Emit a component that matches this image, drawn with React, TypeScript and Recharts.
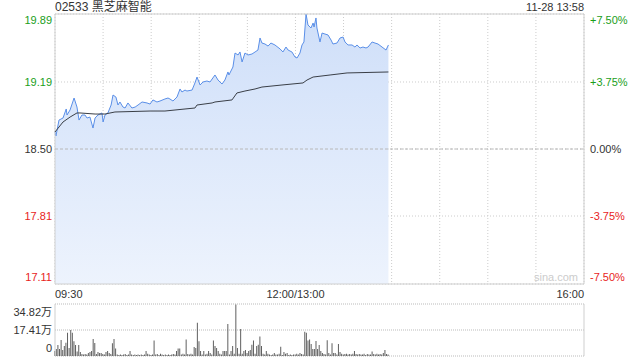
import React from 'react';
import {
  ComposedChart,
  BarChart,
  Area,
  Line,
  Bar,
  XAxis,
  YAxis,
  CartesianGrid,
  ReferenceLine,
  ReferenceArea,
} from 'recharts';

const stockTitle = '02533 黑芝麻智能';
const stampText = '11-28 13:58';
const prevClose = 18.5;

const priceTicks = [17.11, 17.81, 18.5, 19.19, 19.89];
const pctLabels = ['-7.50%', '-3.75%', '0.00%', '+3.75%', '+7.50%'];

const timeTicks = [0, 30, 60, 90, 120, 150, 180, 210, 240, 270, 300, 330];
const timeLabelMinutes = [0, 150, 330];
const timeLabelTexts = ['09:30', '12:00/13:00', '16:00'];

const volTicks = [0, 17.41, 34.82];
const volLabels = ['0', '17.41万', '34.82万'];

// minutes since 09:30 (trading minutes, lunch removed)
const priceMinutes = [
  0, 0.6, 2.5, 5, 7, 7.5, 9.4, 11.9, 13.7, 15,
  16.8, 18.7, 20, 21.8, 23.7, 25, 26.8, 29.3, 30, 31.2,
  33, 35, 36.2, 38, 39.3, 40.5, 42.4, 43.7, 45.5, 48,
  50, 51.8, 54.3, 57.4, 59.3, 61.1, 63.6, 65.5, 68.6, 70.5,
  71.7, 73.6, 76.1, 78, 79.2, 81.1, 82.3, 85.5, 87.3, 88.6,
  90.5, 92.3, 94.8, 96.7, 99.8, 101.7, 104.2, 106, 107.9, 108.5,
  111, 112.3, 114.2, 115.4, 116.7, 118.5, 120.4, 122.9, 124.8, 126.6,
  127.9, 129.1, 131, 132.9, 134.7, 137.2, 140.4, 142.2, 144.1, 145.4,
  147.8, 149.7, 151, 152.8, 154.1, 155.3, 156.6, 157.8, 159.7, 161,
  161.6, 162.8, 163.4, 165.3, 166.6, 168.4, 170.3, 172.2, 173.4, 175.9,
  177.8, 179.7, 180.9, 182.8, 185.3, 187.1, 188.4, 190.3, 192.1, 194,
  195.3, 197.8, 199.6, 201.5, 204, 206.5, 208,
];
const priceValues = [
  18.675, 18.634, 18.798, 18.819, 18.912, 18.85, 18.902, 19.025, 18.932, 18.798,
  18.85, 18.85, 18.819, 18.829, 18.716, 18.819, 18.85, 18.871, 18.778, 18.85,
  18.871, 18.953, 19.056, 19.035, 18.953, 18.984, 18.932, 18.922, 18.974, 18.922,
  18.932, 18.953, 18.984, 18.974, 18.963, 19.005, 18.984, 18.994, 19.015, 19.025,
  19.015, 18.994, 19.035, 19.118, 19.087, 19.107, 19.097, 19.107, 19.18, 19.241,
  19.159, 19.19, 19.2, 19.19, 19.262, 19.21, 19.169, 19.21, 19.293, 19.262,
  19.344, 19.488, 19.468, 19.499, 19.396, 19.488, 19.468, 19.478, 19.499, 19.519,
  19.643, 19.591, 19.581, 19.56, 19.591, 19.571, 19.53, 19.499, 19.55, 19.519,
  19.499, 19.447, 19.437, 19.488, 19.571, 19.602, 19.89, 19.777, 19.746, 19.797,
  19.756, 19.849, 19.746, 19.602, 19.694, 19.684, 19.674, 19.622, 19.581, 19.591,
  19.643, 19.653, 19.602, 19.571, 19.571, 19.55, 19.571, 19.54, 19.55, 19.54,
  19.55, 19.602, 19.591, 19.581, 19.55, 19.519, 19.571,
];

const avgMinutes = [
  0, 5, 9.4, 13.7, 15.6, 25, 31.2, 37.4, 59.3, 68.6,
  81.1, 87.3, 88.6, 98, 99.8, 110.4, 113.5, 118.5, 124.8, 129.1,
  141.6, 154.7, 157.2, 161, 171.6, 182.2, 208,
];
const avgValues = [
  18.675, 18.778, 18.829, 18.871, 18.871, 18.86, 18.86, 18.881, 18.891, 18.891,
  18.912, 18.922, 18.953, 18.974, 18.984, 19.005, 19.077, 19.097, 19.118, 19.138,
  19.159, 19.18, 19.21, 19.241, 19.262, 19.283, 19.293,
];

// volume per minute (万股), minute 0 = 09:30
const volumeValues = [
  3.4, 4.7, 7.4, 4.7, 10.7, 4.0, 6.7, 8.9, 15.6, 5.4,
  17.4, 15.6, 9.8, 7.4, 3.0, 7.4, 2.7, 1.3, 1.0, 1.3,
  1.0, 2.0, 2.7, 3.4, 11.4, 8.7, 1.3, 2.7, 2.0, 2.0,
  1.3, 1.0, 2.7, 3.4, 2.0, 1.3, 8.5, 11.4, 5.0, 1.0,
  0.7, 1.0, 0.7, 1.0, 1.3, 0.7, 1.0, 3.4, 1.0, 0.7,
  1.0, 0.7, 1.0, 0.7, 1.0, 0.7, 1.0, 3.4, 1.5, 1.0,
  0.7, 1.0, 10.3, 1.0, 1.3, 0.7, 1.5, 1.0, 0.7, 1.0,
  0.7, 1.0, 0.7, 1.0, 1.3, 1.0, 3.4, 5.0, 5.0, 1.0,
  1.5, 1.0, 11.0, 1.3, 1.0, 1.5, 1.0, 6.0, 5.4, 22.3,
  9.8, 3.4, 1.0, 3.4, 1.0, 1.5, 3.4, 2.0, 1.0, 10.3,
  6.7, 5.4, 3.4, 1.5, 1.0, 3.4, 3.4, 3.4, 21.4, 1.0,
  3.4, 6.7, 1.5, 34.5, 5.4, 1.5, 18.0, 1.5, 3.4, 4.0,
  2.0, 3.4, 4.0, 7.6, 10.3, 1.5, 6.7, 7.6, 13.0, 6.7,
  1.5, 1.0, 3.4, 1.5, 1.0, 0.7, 1.0, 2.0, 1.0, 1.0,
  1.5, 6.2, 0.7, 2.7, 1.5, 2.0, 0.7, 1.0, 0.7, 1.0,
  1.0, 1.5, 1.0, 2.0, 1.3, 1.0, 16.3, 15.6, 10.3, 11.0,
  8.0, 4.7, 4.7, 10.0, 4.7, 7.4, 3.4, 2.0, 1.3, 1.0,
  10.5, 2.0, 1.0, 8.5, 2.0, 2.0, 1.0, 8.0, 2.7, 1.5,
  1.0, 1.3, 1.5, 1.0, 1.3, 1.0, 1.5, 3.4, 1.3, 1.0,
  1.3, 1.0, 1.0, 1.5, 0.7, 1.3, 1.0, 1.0, 3.0, 1.3,
  1.0, 1.5, 1.0, 1.3, 1.0, 2.0, 4.0, 1.3, 1.0,
];

// build tables for the library
const rowMap = new Map<number, any>();
priceMinutes.forEach((m, i) => {
  rowMap.set(m, { ...(rowMap.get(m) || { m }), price: priceValues[i] });
});
avgMinutes.forEach((m, i) => {
  rowMap.set(m, { ...(rowMap.get(m) || { m }), avg: avgValues[i] });
});
const priceData = Array.from(rowMap.values()).sort((a, b) => a.m - b.m);
const volumeData = volumeValues.map((v, i) => ({ m: i, vol: v }));

const FONT = 'Arial, "Liberation Sans", "Noto Sans CJK SC", sans-serif';
const GREEN = '#1a9e1a';
const RED = '#e8231c';
const DARK = '#333333';

const PriceTick = (props: any) => {
  const { y, payload } = props;
  const v = payload.value;
  const i = priceTicks.findIndex((t) => Math.abs(t - v) < 1e-6);
  const color = v > prevClose + 1e-6 ? GREEN : v < prevClose - 1e-6 ? RED : DARK;
  const dy = i === priceTicks.length - 1 ? 6 : i === 0 ? -7 : 0;
  return (
    <g>
      <text x={52} y={y + dy} textAnchor="end" dominantBaseline="central" fill={color} fontSize={11} fontFamily={FONT}>
        {v.toFixed(2)}
      </text>
      <text x={590} y={y + dy} textAnchor="start" dominantBaseline="central" fill={color} fontSize={11} fontFamily={FONT}>
        {pctLabels[i]}
      </text>
    </g>
  );
};

const TimeTick = (props: any) => {
  const { x, payload } = props;
  const idx = timeLabelMinutes.indexOf(payload.value);
  if (idx < 0) return <g />;
  const anchor = idx === 0 ? 'start' : idx === timeLabelMinutes.length - 1 ? 'end' : 'middle';
  return (
    <text x={x} y={294} textAnchor={anchor} dominantBaseline="central" fill={DARK} fontSize={11} fontFamily={FONT}>
      {timeLabelTexts[idx]}
    </text>
  );
};

const VolTick = (props: any) => {
  const { y, payload } = props;
  const v = payload.value;
  const i = volTicks.findIndex((t) => Math.abs(t - v) < 1e-6);
  const dy = i === volTicks.length - 1 ? 8 : i === 0 ? -8 : 0;
  return (
    <text x={52} y={y + dy} textAnchor="end" dominantBaseline="central" fill={DARK} fontSize={11} fontFamily={FONT}>
      {volLabels[i]}
    </text>
  );
};

export default function App() {
  return (
    <div
      style={{
        position: 'absolute',
        left: 0,
        top: 0,
        width: 640,
        height: 360,
        background: '#fff',
        overflow: 'hidden',
        fontFamily: FONT,
      }}
    >
      <div style={{ position: 'absolute', left: 0, top: 0 }}>
        <ComposedChart
          width={640}
          height={305}
          data={priceData}
          margin={{ top: 14, right: 56, bottom: 5, left: 0 }}
        >
          <defs>
            <linearGradient id="pfill" x1="0" y1="0" x2="0" y2="1">
              <stop offset="0%" stopColor="#cfdff9" />
              <stop offset="100%" stopColor="#edf3fd" />
            </linearGradient>
          </defs>
          <CartesianGrid stroke="#cccccc" strokeDasharray="1 2" />
          <XAxis
            dataKey="m"
            type="number"
            domain={[0, 330]}
            ticks={timeTicks}
            interval={0}
            height={16}
            axisLine={false}
            tickLine={false}
            tick={TimeTick}
          />
          <YAxis
            type="number"
            domain={[17.11, 19.89]}
            ticks={priceTicks}
            interval={0}
            width={55}
            axisLine={false}
            tickLine={false}
            tick={PriceTick}
          />
          <ReferenceLine y={prevClose} stroke="#b8b8b8" strokeDasharray="3 2" />
          <Area
            type="linear"
            dataKey="price"
            stroke="#5a8fe8"
            strokeWidth={1}
            fill="url(#pfill)"
            fillOpacity={1}
            connectNulls
            dot={false}
            activeDot={false}
            isAnimationActive={false}
          />
          <Line
            type="linear"
            dataKey="avg"
            stroke="#3a3f47"
            strokeWidth={1}
            connectNulls
            dot={false}
            activeDot={false}
            isAnimationActive={false}
          />
          <ReferenceArea
            x1={0}
            x2={330}
            y1={17.11}
            y2={19.89}
            fill="none"
            stroke="#cfcfcf"
            strokeWidth={1}
          />
        </ComposedChart>
      </div>

      <div style={{ position: 'absolute', left: 0, top: 290 }}>
        <BarChart
          width={640}
          height={70}
          data={volumeData}
          margin={{ top: 14, right: 56, bottom: 4, left: 0 }}
        >
          <CartesianGrid stroke="#bbbbbb" strokeDasharray="1 1" vertical={false} />
          <XAxis dataKey="m" type="number" domain={[0, 330]} hide />
          <YAxis
            type="number"
            domain={[0, 34.82]}
            ticks={volTicks}
            interval={0}
            width={55}
            axisLine={false}
            tickLine={false}
            tick={VolTick}
          />
          <ReferenceLine x={0} stroke="#cfcfcf" />
          <ReferenceLine x={330} stroke="#cfcfcf" />
          <Bar dataKey="vol" fill="#5f5f5f" barSize={1} isAnimationActive={false} />
        </BarChart>
      </div>

      <div
        style={{
          position: 'absolute',
          left: 55,
          top: 0,
          fontSize: 12,
          lineHeight: '15px',
          color: DARK,
          whiteSpace: 'nowrap',
        }}
      >
        {stockTitle}
      </div>
      <div
        style={{
          position: 'absolute',
          right: 56,
          top: 0,
          fontSize: 11,
          lineHeight: '15px',
          color: DARK,
          whiteSpace: 'nowrap',
        }}
      >
        {stampText}
      </div>
      <div
        style={{
          position: 'absolute',
          right: 62,
          top: 270,
          fontSize: 11,
          lineHeight: '14px',
          color: '#cccccc',
          whiteSpace: 'nowrap',
        }}
      >
        sina.com
      </div>
    </div>
  );
}
